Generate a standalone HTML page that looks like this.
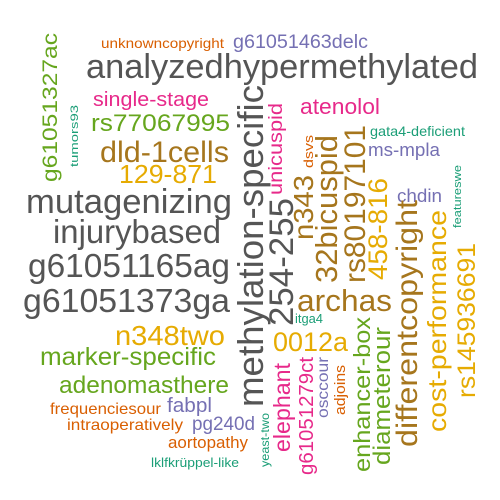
<!DOCTYPE html>
<html><head><meta charset="utf-8"><style>
html,body{margin:0;padding:0;background:#fff;width:500px;height:500px;overflow:hidden}
svg text{font-family:"Liberation Sans",Arial,sans-serif}
</style></head><body>
<svg id="cloud" width="500" height="500" viewBox="0 0 500 500" xmlns="http://www.w3.org/2000/svg"></svg>
<script>
const G='#555555',OR='#D95F02',PU='#7570B3',PK='#E7298A',GR='#66A61E',BR='#A6761D',YE='#E6AB02',TE='#1B9E77';
// horizontal words: [text, left, right, baseline, size, color]
const hWords=[
['unknowncopyright',101,224,48,14,OR],
['g61051463delc',233,368,48,19,PU],
['analyzedhypermethylated',86,478,78,34,G],
['single-stage',93,209,106,20,PK],
['rs77067995',91,230,131,24,GR],
['dld-1cells',100,229,162,30,BR],
['129-871',119,217,183,26,YE],
['mutagenizing',26,232,213,34,G],
['injurybased',53,221,243,33,G],
['g61051165ag',28,230,277,33,G],
['g61051373ga',23,230,312,33,G],
['n348two',115,225,345,28,YE],
['marker-specific',40,216,365,25,GR],
['adenomasthere',59,229,393,24,GR],
['frequenciesour',50,161,414,16,OR],
['fabpl',167,212,412,20,PU],
['intraoperatively',67,183,430,16,OR],
['pg240d',192,255,430,19,PU],
['aortopathy',168,248,448,17,OR],
['lklfkrüppel-like',151,239,467,13,TE],
['atenolol',300,380,114,22,PK],
['gata4-deficient',370,465,136,14,TE],
['ms-mpla',368,440,156,18,PU],
['chdin',397,442,202,18,PU],
['archas',297,392,311,31,BR],
['itga4',295,323,323,13,TE],
['0012a',273,348,351,27,YE]
];
// vertical words: [text, baselineX, yTop, yBottom, size, color]
const vWords=[
['g61051327ac',57,33,182,21,GR],
['tumors93',78,105,167,11,TE],
['methylation-specific',263,85,407,36,G],
['254-255',293,198,326,34,G],
['unicuspid',282,103,195,19,PK],
['dsvs',313,135,168,13,OR],
['n343',313,175,240,28,BR],
['32bicuspid',337,135,283,31,BR],
['rs80197101',365,125,283,30,BR],
['458-816',387,178,280,27,YE],
['differentcopyright',417,200,447,30,BR],
['cost-performance',446,210,432,26,YE],
['rs145936691',475,243,398,25,YE],
['featureswe',461,165,228,11,TE],
['elephant',290,363,452,23,PK],
['g61051279ct',313,357,475,20,PK],
['osccour',328,357,418,16,PU],
['adjoins',345,365,415,15,OR],
['yeast-two',269,413,467,12,TE],
['enhancer-box',370,317,472,23,GR],
['diameterour',390,327,465,24,GR]
];
const svg=document.getElementById('cloud');
const NS='http://www.w3.org/2000/svg';
function slug(s){return 'word-'+s.toLowerCase().replace(/[^a-z0-9]+/g,'-').replace(/-+$/,'');}
hWords.forEach(w=>{
  const t=document.createElementNS(NS,'text');
  t.setAttribute('x',w[1]);t.setAttribute('y',w[3]);
  t.setAttribute('font-size',w[4]);t.setAttribute('fill',w[5]);
  t.setAttribute('textLength',w[2]-w[1]);t.setAttribute('lengthAdjust','spacingAndGlyphs');
  t.textContent=w[0];
  
  
  svg.appendChild(t);
});
vWords.forEach(w=>{
  const t=document.createElementNS(NS,'text');
  t.setAttribute('x',0);t.setAttribute('y',0);
  t.setAttribute('transform','translate('+w[1]+','+w[3]+') rotate(-90)');
  t.setAttribute('font-size',w[4]);t.setAttribute('fill',w[5]);
  t.setAttribute('textLength',w[3]-w[2]);t.setAttribute('lengthAdjust','spacingAndGlyphs');
  t.textContent=w[0];
  
  
  svg.appendChild(t);
});
</script>
</body></html>
